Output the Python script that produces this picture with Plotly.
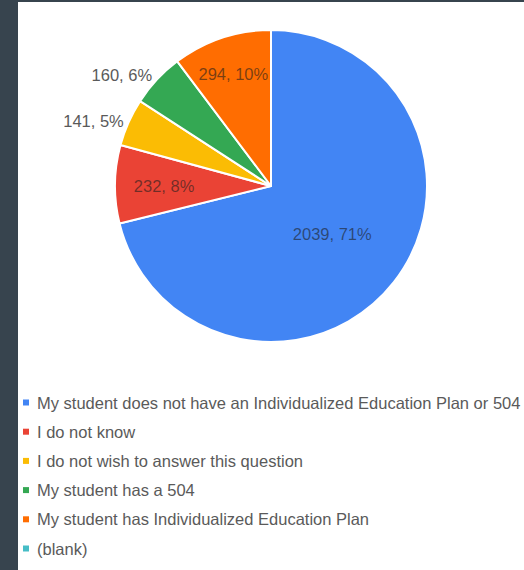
import plotly.graph_objects as go

# Survey responses: IEP / 504 status
labels = [
    "My student does not have an Individualized Education Plan or 504",
    "I do not know",
    "I do not wish to answer this question",
    "My student has a 504",
    "My student has Individualized Education Plan",
    "(blank)",
]
counts = [2039, 232, 141, 160, 294, 0]
colors = ["#4285f4", "#ea4335", "#fbbc04", "#34a853", "#ff6d01", "#46bdc6"]
label_pos = ["inside", "inside", "outside", "outside", "inside", "none"]

W, H = 524, 570
FONT = "Liberation Sans, Arial, sans-serif"
FS = 16.5
LEGEND_FS = 16.5
BG_DARK = "#37444e"
TEXT_GREY = "#5a5a5a"

text_colors = ["rgba(30,30,30,0.6)" if p == "inside" else TEXT_GREY for p in label_pos]

# pie geometry in pixels
cx, cy, r = 271, 186, 156

fig = go.Figure()
fig.add_trace(go.Pie(
    labels=labels,
    values=counts,
    sort=False,
    direction="clockwise",
    rotation=0,
    marker=dict(colors=colors, line=dict(color="white", width=2)),
    textposition=label_pos,
    texttemplate="%{value:d}, %{percent:.0%}",
    textfont=dict(family=FONT, size=FS, color=text_colors),
    insidetextorientation="horizontal",
    showlegend=False,
    domain=dict(x=[(cx - r) / W, (cx + r) / W],
                y=[1 - (cy + r) / H, 1 - (cy - r) / H]),
))

shapes = [dict(type="rect", xref="paper", yref="paper",
               x0=18 / W, x1=1, y0=0, y1=1 - 2 / H,
               fillcolor="white", line=dict(width=0), layer="below")]
annotations = []

# legend rows below the pie
row0, row_step = 402.5, 29.2
for i, (lab, col) in enumerate(zip(labels, colors)):
    yc = row0 + row_step * i
    shapes.append(dict(type="rect", xref="paper", yref="paper",
                       x0=23 / W, x1=29 / W,
                       y0=1 - (yc + 3) / H, y1=1 - (yc - 3) / H,
                       fillcolor=col, line=dict(width=0)))
    annotations.append(dict(xref="paper", yref="paper", x=35 / W, y=1 - yc / H,
                            xanchor="left", yanchor="middle", showarrow=False,
                            text=lab, font=dict(family=FONT, size=LEGEND_FS, color=TEXT_GREY)))

fig.update_layout(
    width=W, height=H,
    margin=dict(l=0, r=0, t=0, b=0),
    paper_bgcolor=BG_DARK,
    plot_bgcolor=BG_DARK,
    uniformtext=dict(minsize=FS, mode="show"),
    shapes=shapes,
    annotations=annotations,
)

fig.write_html("out.html")
